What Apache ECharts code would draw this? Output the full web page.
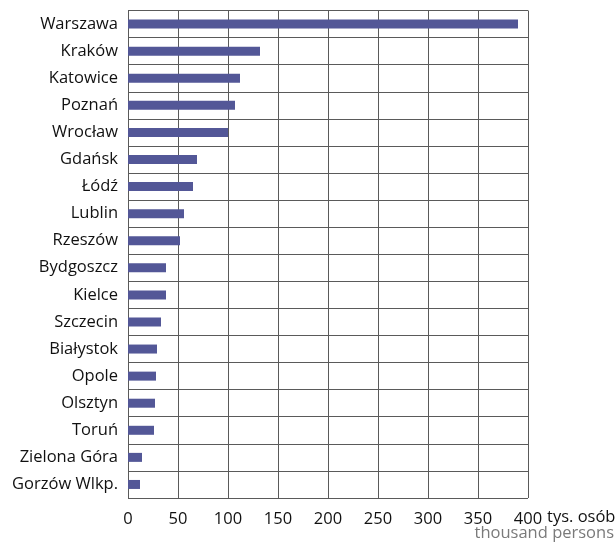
<!DOCTYPE html>
<html>
<head>
<meta charset="utf-8">
<script src="https://cdn.jsdelivr.net/npm/echarts@6/dist/echarts.min.js"></script>
<style>
html, body { margin: 0; padding: 0; background: #fff; }
#chart { width: 616px; height: 543px; }
</style>
</head>
<body>
<div id="chart"></div>
<script>
// miasta i liczba osob (tys.)
const cities = ['Warszawa', 'Kraków', 'Katowice', 'Poznań', 'Wrocław', 'Gdańsk', 'Łódź', 'Lublin', 'Rzeszów',
    'Bydgoszcz', 'Kielce', 'Szczecin', 'Białystok', 'Opole', 'Olsztyn', 'Toruń', 'Zielona Góra', 'Gorzów Wlkp.']
const values = [390, 132, 112, 107, 100, 69, 65, 56, 52, 38, 38, 33, 29, 28, 27, 26, 14, 12]
const xTicks = [0, 50, 100, 150, 200, 250, 300, 350, 400]

const font = '"Open Sans", "Noto Sans", sans-serif'
const gridColor = '#5a5a5a'

const chart = echarts.init(document.getElementById('chart'))
chart.setOption({
    animation: false,
    grid: {
        left: 128,
        right: 88,
        top: 10.5,
        bottom: 45
    },
    xAxis: {
        type: 'value',
        min: xTicks[0],
        max: xTicks[xTicks.length - 1],
        interval: 50,
        axisLine: { show: false },
        axisTick: { show: false },
        axisLabel: {
            color: '#111',
            fontFamily: font,
            fontSize: 16.5,
            margin: 13
        },
        splitLine: {
            show: true,
            lineStyle: { color: gridColor, width: 1 }
        }
    },
    yAxis: {
        type: 'category',
        data: cities,
        inverse: true,
        axisLine: { show: true, lineStyle: { color: gridColor, width: 1 } },
        axisTick: { show: false },
        axisLabel: {
            color: '#111',
            fontFamily: font,
            fontSize: 16.5,
            margin: 10
        },
        splitLine: {
            show: true,
            lineStyle: { color: gridColor, width: 1 }
        }
    },
    series: [{
        type: 'bar',
        data: values,
        barWidth: 9,
        itemStyle: { color: '#535797' }
    }],
    graphic: [
        {
            type: 'text',
            left: 547,
            top: 509,
            style: { text: 'tys. osób', fill: '#111', font: '16.5px ' + font }
        },
        {
            type: 'text',
            right: 2,
            top: 525,
            style: { text: 'thousand persons', fill: '#7a7a7a', font: '16.5px ' + font }
        }
    ]
})
</script>
</body>
</html>
